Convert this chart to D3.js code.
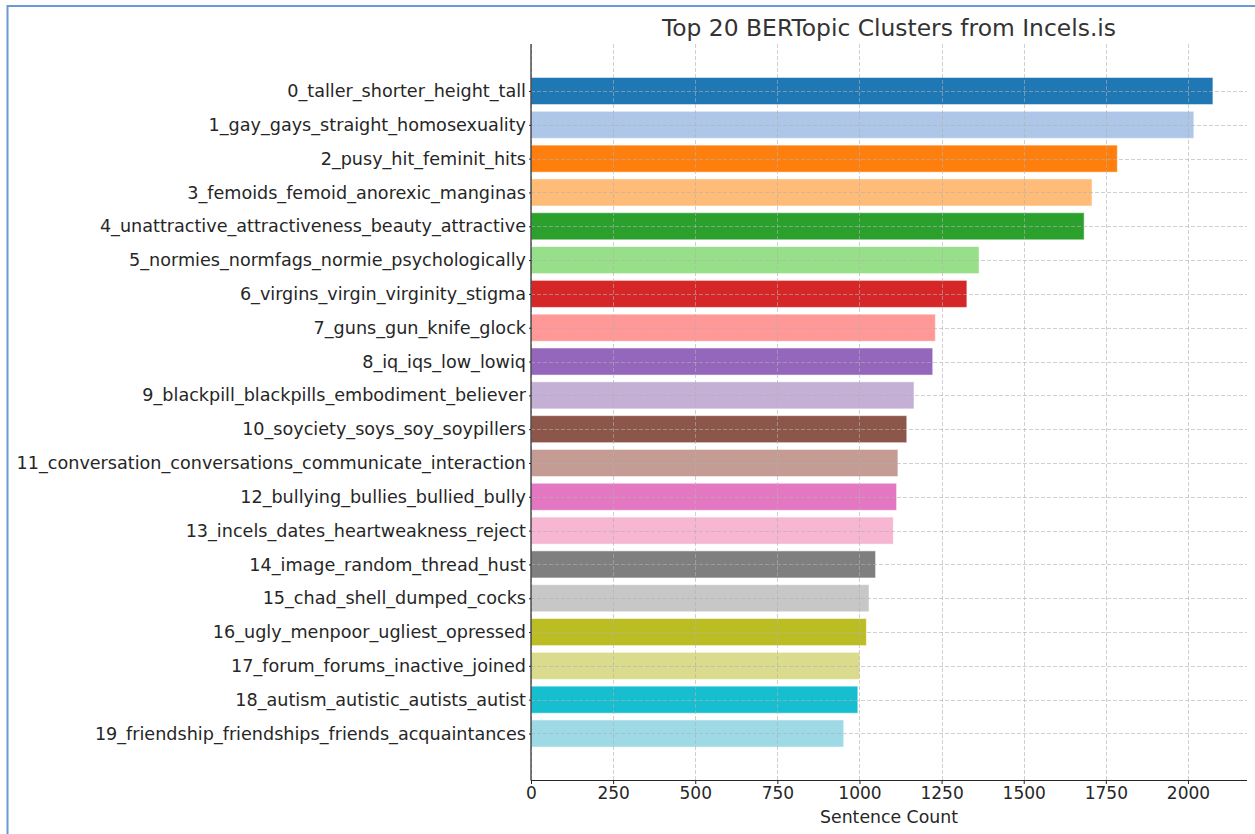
<!DOCTYPE html>
<html>
<head>
<meta charset="utf-8">
<script src="https://cdn.jsdelivr.net/npm/d3@7"></script>
<style>
  html, body { margin: 0; padding: 0; background: #ffffff; }
  svg { display: block; font-family: "DejaVu Sans", sans-serif; }
</style>
</head>
<body>
<svg id="chart" width="1255" height="834"></svg>
<script>
const categories = [
  "0_taller_shorter_height_tall",
  "1_gay_gays_straight_homosexuality",
  "2_pusy_hit_feminit_hits",
  "3_femoids_femoid_anorexic_manginas",
  "4_unattractive_attractiveness_beauty_attractive",
  "5_normies_normfags_normie_psychologically",
  "6_virgins_virgin_virginity_stigma",
  "7_guns_gun_knife_glock",
  "8_iq_iqs_low_lowiq",
  "9_blackpill_blackpills_embodiment_believer",
  "10_soyciety_soys_soy_soypillers",
  "11_conversation_conversations_communicate_interaction",
  "12_bullying_bullies_bullied_bully",
  "13_incels_dates_heartweakness_reject",
  "14_image_random_thread_hust",
  "15_chad_shell_dumped_cocks",
  "16_ugly_menpoor_ugliest_opressed",
  "17_forum_forums_inactive_joined",
  "18_autism_autistic_autists_autist",
  "19_friendship_friendships_friends_acquaintances"
];
const counts = [2076, 2018, 1785, 1708, 1684, 1364, 1327, 1231, 1223, 1166,
                1144, 1117, 1113, 1103, 1049, 1029, 1021, 1001, 995, 952];
const colors = ["#1f77b4", "#aec7e8", "#ff7f0e", "#ffbb78", "#2ca02c", "#98df8a",
                "#d62728", "#ff9896", "#9467bd", "#c5b0d5", "#8c564b", "#c49c94",
                "#e377c2", "#f7b6d2", "#7f7f7f", "#c7c7c7", "#bcbd22", "#dbdb8d",
                "#17becf", "#9edae5"];
const xTicks = [0, 250, 500, 750, 1000, 1250, 1500, 1750, 2000];
const titleText = "Top 20 BERTopic Clusters from Incels.is";
const xLabelText = "Sentence Count";

(function () {
const svg = d3.select("#chart");
const W = 1255, H = 834;
const pLeft = 531, pRight = 1247, pTop = 44, pBottom = 780.5;

// frame border
svg.append("rect")
  .attr("x", 7.5).attr("y", 6)
  .attr("width", W + 20).attr("height", H + 20)
  .attr("fill", "none").attr("stroke", "#6b98d6").attr("stroke-width", 2);

const n = categories.length;
const lo = -0.4, hi = n - 1 + 0.4, m = (hi - lo) * 0.05;
const y = d3.scaleLinear().domain([lo - m, hi + m]).range([pTop, pBottom]);
const x = d3.scaleLinear().domain([0, d3.max(counts) * 1.05]).range([pLeft, pRight]);
const barH = y(0.8) - y(0);

const g = svg.append("g");

// bars
g.selectAll("rect.bar").data(counts).join("rect")
  .attr("class", "bar")
  .attr("x", x(0))
  .attr("y", (d, i) => y(i - 0.4))
  .attr("width", d => x(d) - x(0))
  .attr("height", barH)
  .attr("fill", (d, i) => colors[i])
  .attr("stroke", "#ffffff").attr("stroke-opacity", 0.5).attr("stroke-width", 1);

// grid on top
const gridColor = "#b0b0b0";
g.selectAll("line.vgrid").data(xTicks).join("line")
  .attr("class", "vgrid")
  .attr("x1", d => Math.round(x(d)) + 0.5).attr("x2", d => Math.round(x(d)) + 0.5)
  .attr("y1", pTop).attr("y2", pBottom)
  .attr("stroke", gridColor).attr("stroke-opacity", 0.6)
  .attr("stroke-width", 1).attr("stroke-dasharray", "4,2");
g.selectAll("line.hgrid").data(categories).join("line")
  .attr("class", "hgrid")
  .attr("x1", pLeft).attr("x2", pRight)
  .attr("y1", (d, i) => Math.round(y(i)) + 0.5).attr("y2", (d, i) => Math.round(y(i)) + 0.5)
  .attr("stroke", gridColor).attr("stroke-opacity", 0.6)
  .attr("stroke-width", 1).attr("stroke-dasharray", "4,2");

// x axis
const xAxis = d3.axisBottom(x).tickValues(xTicks).tickSize(3.5).tickPadding(3).tickFormat(d3.format("d"));
const xg = svg.append("g").attr("transform", `translate(0,${pBottom})`).call(xAxis);
xg.select(".domain").attr("stroke", "#262626").attr("stroke-width", 1.2)
  .attr("d", `M${pLeft},0H${pRight}`);
xg.selectAll(".tick line").attr("stroke", "#262626");
xg.selectAll(".tick text").attr("font-size", 17).attr("fill", "#262626")
  .attr("font-family", "DejaVu Sans, sans-serif");

// y axis
const yAxis = d3.axisLeft(y).tickValues(d3.range(n)).tickSize(2).tickPadding(3)
  .tickFormat(i => categories[i]);
const yg = svg.append("g").attr("transform", `translate(${pLeft},0)`).call(yAxis);
yg.select(".domain").attr("stroke", "#262626").attr("stroke-width", 1.2)
  .attr("d", `M0,${pTop}V${pBottom}`);
yg.selectAll(".tick line").attr("stroke", "#262626");
yg.selectAll(".tick text").attr("font-size", 17.6).attr("fill", "#262626")
  .attr("font-family", "DejaVu Sans, sans-serif");

// title
svg.append("text")
  .attr("x", (pLeft + pRight) / 2).attr("y", 36)
  .attr("text-anchor", "middle")
  .attr("font-size", 23.4).attr("fill", "#333333")
  .text(titleText);

// x label
svg.append("text")
  .attr("x", (pLeft + pRight) / 2).attr("y", 823)
  .attr("text-anchor", "middle")
  .attr("font-size", 17.3).attr("fill", "#262626")
  .text(xLabelText);
})();
</script>
</body>
</html>
